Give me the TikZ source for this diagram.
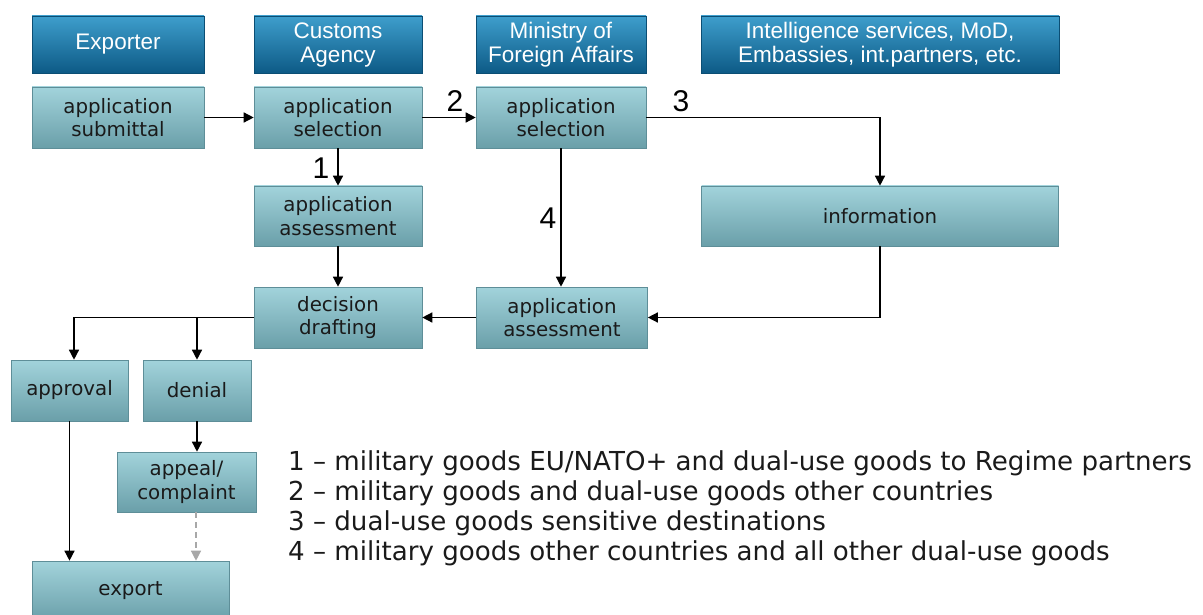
\documentclass[tikz,border=0pt]{standalone}
\usepackage{fontspec}
\setmainfont{DejaVu Sans}
\newfontfamily\hdrfam{Liberation Sans}
\usetikzlibrary{arrows.meta,calc}
\definecolor{hdrtop}{HTML}{3E9ECC}
\definecolor{hdrmid}{HTML}{1A76AA}
\definecolor{hdrbot}{HTML}{0D5A86}
\definecolor{hdrline}{HTML}{0B4E74}
\definecolor{proctop}{HTML}{A2D3DB}
\definecolor{procmid}{HTML}{84BDC7}
\definecolor{procbot}{HTML}{6A9FA9}
\definecolor{procline}{HTML}{5E8E98}
\definecolor{txt}{HTML}{1A1A1A}
\definecolor{dashgray}{HTML}{A8A8A8}
\begin{document}
\begin{tikzpicture}[x=1pt,y=-1pt,
  hdr/.style={draw=hdrline, line width=0.6pt, top color=hdrtop, middle color=hdrmid, bottom color=hdrbot,
    text=white, font=\hdrfam\fontsize{22.5}{24}\selectfont, align=center, inner sep=0pt,
    minimum height=57pt},
  proc/.style={draw=procline, line width=0.6pt, top color=proctop, middle color=procmid, bottom color=procbot,
    text=txt, font=\fontsize{19.8}{23.5}\selectfont, align=center, inner sep=0pt,
    minimum height=61pt},
  arr/.style={draw=black, line width=1.4pt, -{Triangle[length=10pt,width=10pt]}},
  darr/.style={draw=dashgray, line width=1.3pt, dash pattern=on 6pt off 4pt, -{Triangle[length=10pt,width=10pt]}},
  numlbl/.style={font=\hdrfam\fontsize{30}{32}\selectfont, inner sep=0pt, text=black},
  legend/.style={font=\fontsize{26.1}{30}\selectfont, anchor=base west, inner sep=0pt, text=txt}
]
\useasboundingbox (0,0) rectangle (1203,615);
\fill[white] (0,0) rectangle (1203,615);

% headers
\node[hdr, minimum width=172pt] (hExp) at (118,44.5) {Exporter};
\node[hdr, minimum width=168pt] (hCus) at (338,44.5) {Customs\\Agency};
\node[hdr, minimum width=170pt] (hMFA) at (561,44.5) {Ministry of\\Foreign Affairs};
\node[hdr, minimum width=358pt] (hInt) at (880,44.5) {Intelligence services, MoD,\\Embassies, int.partners, etc.};

% process boxes
\node[proc, minimum width=172pt] (sub) at (118,117.5) {application\\submittal};
\node[proc, minimum width=168pt] (cSel) at (338,117.5) {application\\selection};
\node[proc, minimum width=170pt] (mSel) at (561,117.5) {application\\selection};
\node[proc, minimum width=357pt, minimum height=60pt] (info) at (880,216) {information};
\node[proc, minimum width=168pt, minimum height=60pt] (cAss) at (338,216) {application\\assessment};
\node[proc, minimum width=168pt] (dd) at (338,317.5) {decision\\drafting};
\node[proc, minimum width=171pt] (mAss) at (562,317.5) {application\\assessment};
\node[proc, minimum width=117pt] (appr) at (69.5,390.5) {approval};
\node[proc, minimum width=108pt] (den) at (197,390.5) {denial};
\node[proc, minimum width=139pt, minimum height=60pt] (app) at (186.5,482) {appeal/\\complaint};
\node[proc, minimum width=197pt, minimum height=60pt] (exp) at (130.5,591) {export};

% connectors
\draw[arr] (sub.east) -- (cSel.west);
\draw[arr] (cSel.east) -- (mSel.west);
\draw[arr] (mSel.east) -| (info.north);
\draw[arr] (cSel.south) -- (cAss.north);
\draw[arr] (mSel.south) -- (mSel.south |- mAss.north);
\draw[arr] (cAss.south) -- (dd.north);
\draw[arr] (info.south) |- (mAss.east);
\draw[arr] (mAss.west) -- (dd.east);
\coordinate (brA) at (74,318);
\draw[arr] (dd.west) -| (brA |- appr.north);
\draw[arr] (dd.west -| den.north) -- (den.north);
\draw[arr] (appr.south) -- (appr.south |- exp.north);
\draw[arr] (den.south) -- (den.south |- app.north);
\coordinate (dx) at (196,0);
\draw[darr] (dx |- app.south) -- (dx |- exp.north);

% number labels
\node[numlbl] (n1) at (321,168) {1};
\node[numlbl] (n2) at (455,101) {2};
\node[numlbl] (n3) at (681,101) {3};
\node[numlbl] (n4) at (548,218) {4};

% legend
\node[legend] (l1) at (288,470) {1 – military goods EU/NATO+ and dual-use goods to Regime partners};
\node[legend] (l2) at (288,500) {2 – military goods and dual-use goods other countries};
\node[legend] (l3) at (288,530) {3 – dual-use goods sensitive destinations};
\node[legend] (l4) at (288,560) {4 – military goods other countries and all other dual-use goods};
\end{tikzpicture}
\end{document}
